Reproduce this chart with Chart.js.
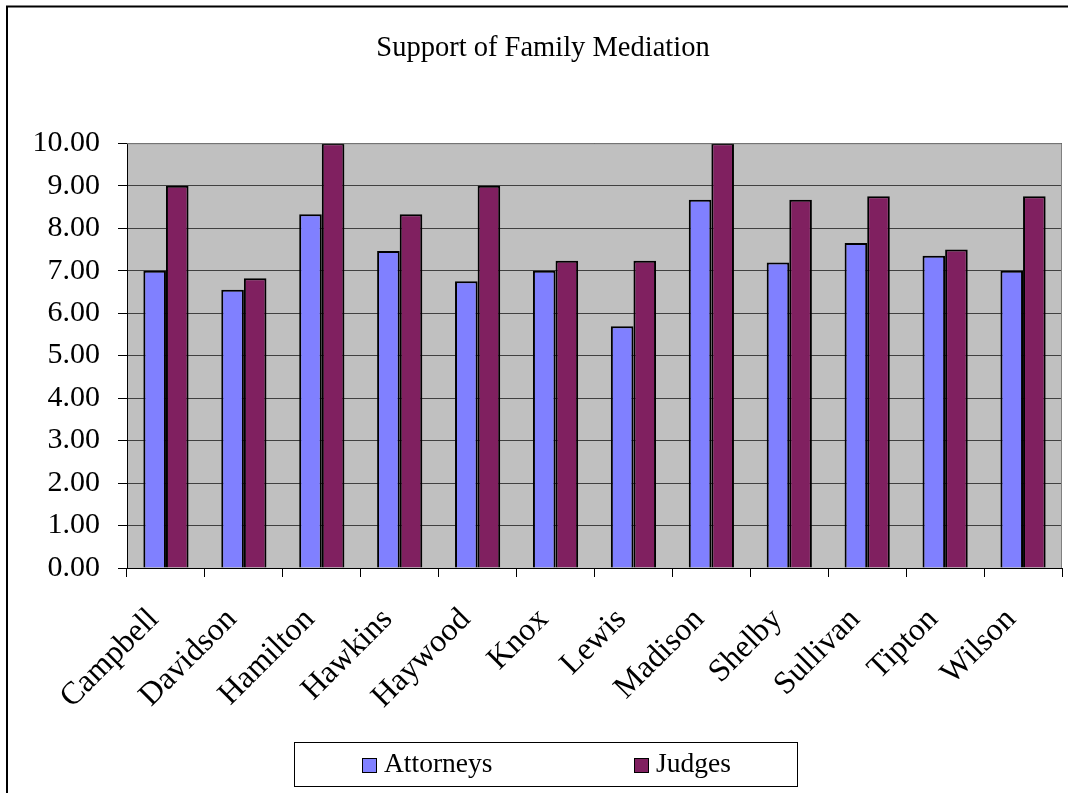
<!DOCTYPE html>
<html lang="en">
<head>
    <meta charset="UTF-8">
    <title>Support of Family Mediation</title>
    <script src="https://cdn.jsdelivr.net/npm/chart.js"></script>
    <style>
        body { margin: 0; background: #fff; }
        canvas { display: block; }
    </style>
</head>
<body>
    <canvas id="chart" width="1068" height="793"></canvas>

    <script>
        // Dati
        const counties = ['Campbell', 'Davidson', 'Hamilton', 'Hawkins', 'Haywood', 'Knox',
                          'Lewis', 'Madison', 'Shelby', 'Sullivan', 'Tipton', 'Wilson'];
        const attorneys = [7.00, 6.55, 8.33, 7.46, 6.75, 7.00, 5.69, 8.67, 7.19, 7.65, 7.35, 7.00];
        const judges    = [9.00, 6.82, 10.00, 8.33, 9.00, 7.23, 7.23, 10.00, 8.67, 8.75, 7.50, 8.75];
        const yTicks    = [0, 1, 2, 3, 4, 5, 6, 7, 8, 9, 10];

        const serif = '"Liberation Serif", "Times New Roman", serif';

        // Sfondo grigio dell'area del grafico e cornice esterna
        const plotBackground = {
            id: 'plotBackground',
            beforeDraw(chart) {
                const { ctx, chartArea: a } = chart;
                ctx.save();
                ctx.fillStyle = '#C0C0C0';
                ctx.fillRect(a.left, a.top, a.right - a.left, a.bottom - a.top);
                ctx.restore();
            },
            afterDraw(chart) {
                const { ctx, chartArea: a } = chart;
                ctx.save();
                ctx.strokeStyle = '#808080';
                ctx.lineWidth = 1;
                ctx.beginPath();
                ctx.moveTo(a.left, a.top + 0.5);
                ctx.lineTo(a.right - 0.5, a.top + 0.5);
                ctx.lineTo(a.right - 0.5, a.bottom);
                ctx.stroke();
                // cornice esterna
                ctx.strokeStyle = '#000';
                ctx.lineWidth = 2;
                ctx.strokeRect(7, 6.5, 1100, 900);
                ctx.restore();
            }
        };

        // Legenda disegnata a mano, con riquadro
        const boxedLegend = {
            id: 'boxedLegend',
            afterDraw(chart) {
                const ctx = chart.ctx;
                const left = 294, top = 742, width = 503, height = 44;
                ctx.save();
                ctx.fillStyle = '#fff';
                ctx.fillRect(left, top, width, height);
                ctx.strokeStyle = '#000';
                ctx.lineWidth = 1;
                ctx.strokeRect(left + 0.5, top + 0.5, width, height);
                ctx.font = '27.5px ' + serif;
                ctx.textBaseline = 'middle';
                const offsets = [68, 340];
                chart.data.datasets.forEach((ds, i) => {
                    const x = left + offsets[i];
                    const cy = top + height / 2 + 1;
                    ctx.fillStyle = ds.backgroundColor;
                    ctx.fillRect(x, cy - 7, 14, 14);
                    ctx.strokeStyle = '#000';
                    ctx.strokeRect(x + 0.5, cy - 6.5, 14, 14);
                    ctx.fillStyle = '#000';
                    ctx.fillText(ds.label, x + 22, cy);
                });
                ctx.restore();
            }
        };

        const ctx = document.getElementById('chart').getContext('2d');
        new Chart(ctx, {
            type: 'bar',
            data: {
                labels: counties,
                datasets: [{
                    label: 'Attorneys',
                    data: attorneys,
                    backgroundColor: '#8080FF',
                    borderColor: '#000',
                    borderWidth: 2
                }, {
                    label: 'Judges',
                    data: judges,
                    backgroundColor: '#802060',
                    borderColor: '#000',
                    borderWidth: 2
                }]
            },
            options: {
                responsive: false,
                animation: false,
                categoryPercentage: 0.58,
                barPercentage: 1.0,
                layout: { padding: { left: 24, right: 6, top: 0, bottom: 85 } },
                plugins: {
                    legend: { display: false },
                    tooltip: { enabled: false },
                    title: {
                        display: true,
                        text: 'Support of Family Mediation',
                        color: '#000',
                        font: { family: serif, size: 28.5, weight: 'normal' },
                        padding: { top: 31, bottom: 78 }
                    }
                },
                scales: {
                    x: {
                        afterFit(scale) {
                            scale.height = 140;
                            scale.paddingLeft = 0;
                            scale.paddingRight = 0;
                        },
                        border: { color: '#000', width: 1 },
                        grid: {
                            offset: true,
                            drawOnChartArea: false,
                            tickLength: 9,
                            tickColor: '#000'
                        },
                        ticks: {
                            color: '#000',
                            font: { family: serif, size: 32 },
                            minRotation: 45,
                            maxRotation: 45,
                            padding: 24,
                            labelOffset: -12
                        }
                    },
                    y: {
                        min: 0,
                        max: 10,
                        afterFit(scale) { scale.width = 103; },
                        afterBuildTicks(scale) { scale.ticks = yTicks.map(v => ({ value: v })); },
                        border: { color: '#000', width: 1 },
                        grid: {
                            color: '#404040',
                            lineWidth: 1,
                            tickLength: 9,
                            tickColor: '#000'
                        },
                        ticks: {
                            color: '#000',
                            font: { family: serif, size: 30 },
                            padding: 18,
                            callback: v => Number(v).toFixed(2)
                        }
                    }
                }
            },
            plugins: [plotBackground, boxedLegend]
        });
    </script>
</body>
</html>
